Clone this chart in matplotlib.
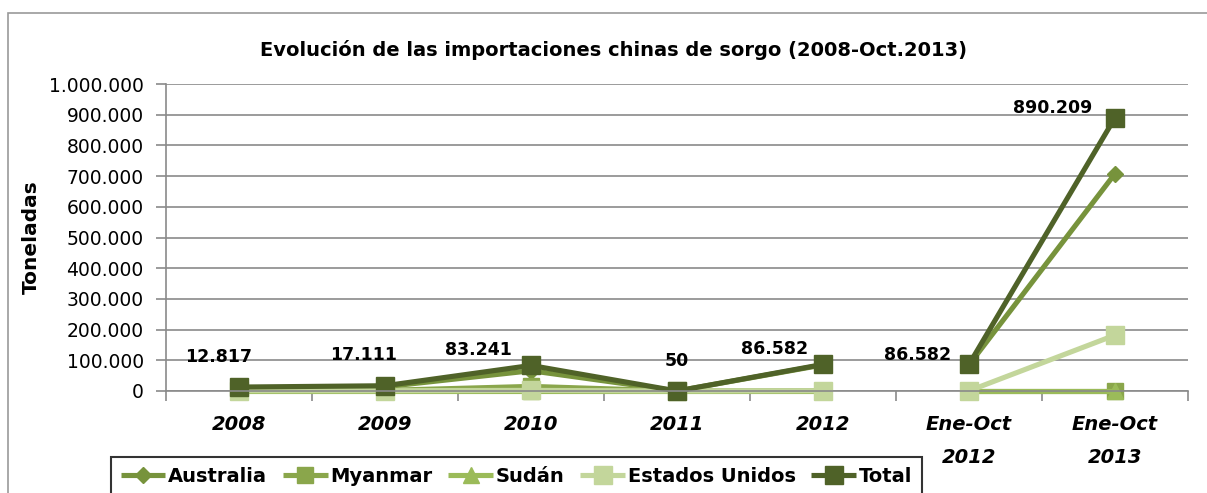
import matplotlib.pyplot as plt
import matplotlib.patches as patches
from matplotlib.ticker import FuncFormatter, FixedLocator
import numpy as np

plt.rcParams['font.family'] = ['DejaVu Sans']

# datos
categorias = ['2008', '2009', '2010', '2011', '2012', 'Ene-Oct\n2012', 'Ene-Oct\n2013']
australia = [10000, 14000, 66000, 0, 85000, 85000, 708000]
myanmar = [1500, 2000, 15000, 0, 500, 0, 0]
sudan = [0, 0, 0, 0, 0, 0, 0]
estados_unidos = [1000, 1000, 2000, 50, 1000, 500, 182000]
total = [12817, 17111, 83241, 50, 86582, 86582, 890209]

series = [
    ('Australia', australia, '#77933C', 'D', 8),
    ('Myanmar', myanmar, '#8AA64B', 's', 12),
    ('Sudán', sudan, '#9BBB59', '^', 11),
    ('Estados Unidos', estados_unidos, '#C3D69B', 's', 13),
    ('Total', total, '#4F6228', 's', 13.5),
]

# desplazamiento de las etiquetas (pixeles)
offs = [(-20, 30), (-21, 31), (-53, 15), (0, 30), (-48, 15), (-51, 9), (-62, 10)]

W, H = 1207, 493
fig = plt.figure(figsize=(W / 100, H / 100), dpi=100)
ax = fig.add_axes([166 / W, 1 - 391 / H, (1188 - 166) / W, (391 - 84) / H])

# borde exterior del gráfico
fig.patches.append(patches.Rectangle((8 / W, -0.1), 1.2, 1 - 13 / H + 0.1,
                                     transform=fig.transFigure, fill=False,
                                     edgecolor='#9a9a9a', linewidth=1.2))

x = np.arange(len(categorias))
corte = 5  # no hay línea entre 2012 y Ene-Oct 2012
lines = []
for nombre, vals, color, marker, ms in series:
    vals = np.array(vals, dtype=float)
    kw = dict(color=color, linewidth=3.7, marker=marker, markersize=ms,
              solid_capstyle='butt', clip_on=False)
    ln, = ax.plot(x[:corte], vals[:corte], label=nombre, **kw)
    ax.plot(x[corte:], vals[corte:], **kw)
    lines.append(ln)

# etiquetas de datos del total
for xi, v, (dx, dy) in zip(x, total, offs):
    txt = f'{v:,}'.replace(',', '.')
    ax.annotate(txt, (xi, v), xytext=(dx, dy), textcoords='offset pixels',
                ha='center', va='center', fontsize=12.5, fontweight='bold')

ax.set_xlim(-0.5, len(categorias) - 0.5)
ax.set_ylim(0, 1000000)
ax.yaxis.set_major_locator(FixedLocator(np.arange(0, 1000001, 100000)))
ax.yaxis.set_major_formatter(FuncFormatter(lambda v, p: f'{int(v):,}'.replace(',', '.')))
ax.tick_params(axis='y', labelsize=13.5, length=7, color='#8a8a8a', width=1.2, pad=9)
ax.grid(axis='y', color='#8a8a8a', linewidth=1.2)
ax.set_axisbelow(True)

ax.set_xticks(x)
ax.set_xticklabels(categorias, fontsize=14, fontweight='bold', fontstyle='italic',
                   linespacing=1.95, va='top')
ax.tick_params(axis='x', length=0, pad=17)
ax.set_xticks(np.arange(-0.5, len(categorias), 1), minor=True)
ax.tick_params(axis='x', which='minor', length=7, color='#8a8a8a', width=1.2)

for s in ['top', 'right']:
    ax.spines[s].set_visible(False)
for s in ['left', 'bottom']:
    ax.spines[s].set_color('#8a8a8a')
    ax.spines[s].set_linewidth(1.2)

ax.set_ylabel('Toneladas', fontsize=14.5, fontweight='bold')
ax.yaxis.set_label_coords((41 - 166) / (1188 - 166), 0.5)
fig.text(613 / W, 1 - 50 / H,
         'Evolución de las importaciones chinas de sorgo (2008-Oct.2013)',
         ha='center', va='center', fontsize=14, fontweight='bold')

leg = fig.legend(handles=lines, loc='upper left', bbox_to_anchor=(111 / W, 1 - 457 / H),
                 ncol=5, frameon=True, fancybox=False, edgecolor='black',
                 fontsize=14, handlelength=2.3, columnspacing=0.8, handletextpad=0.15,
                 borderpad=0.5, borderaxespad=0)
for t in leg.get_texts():
    t.set_fontweight('bold')
leg.get_frame().set_linewidth(1.5)

fig.savefig('out.png', dpi=100)
